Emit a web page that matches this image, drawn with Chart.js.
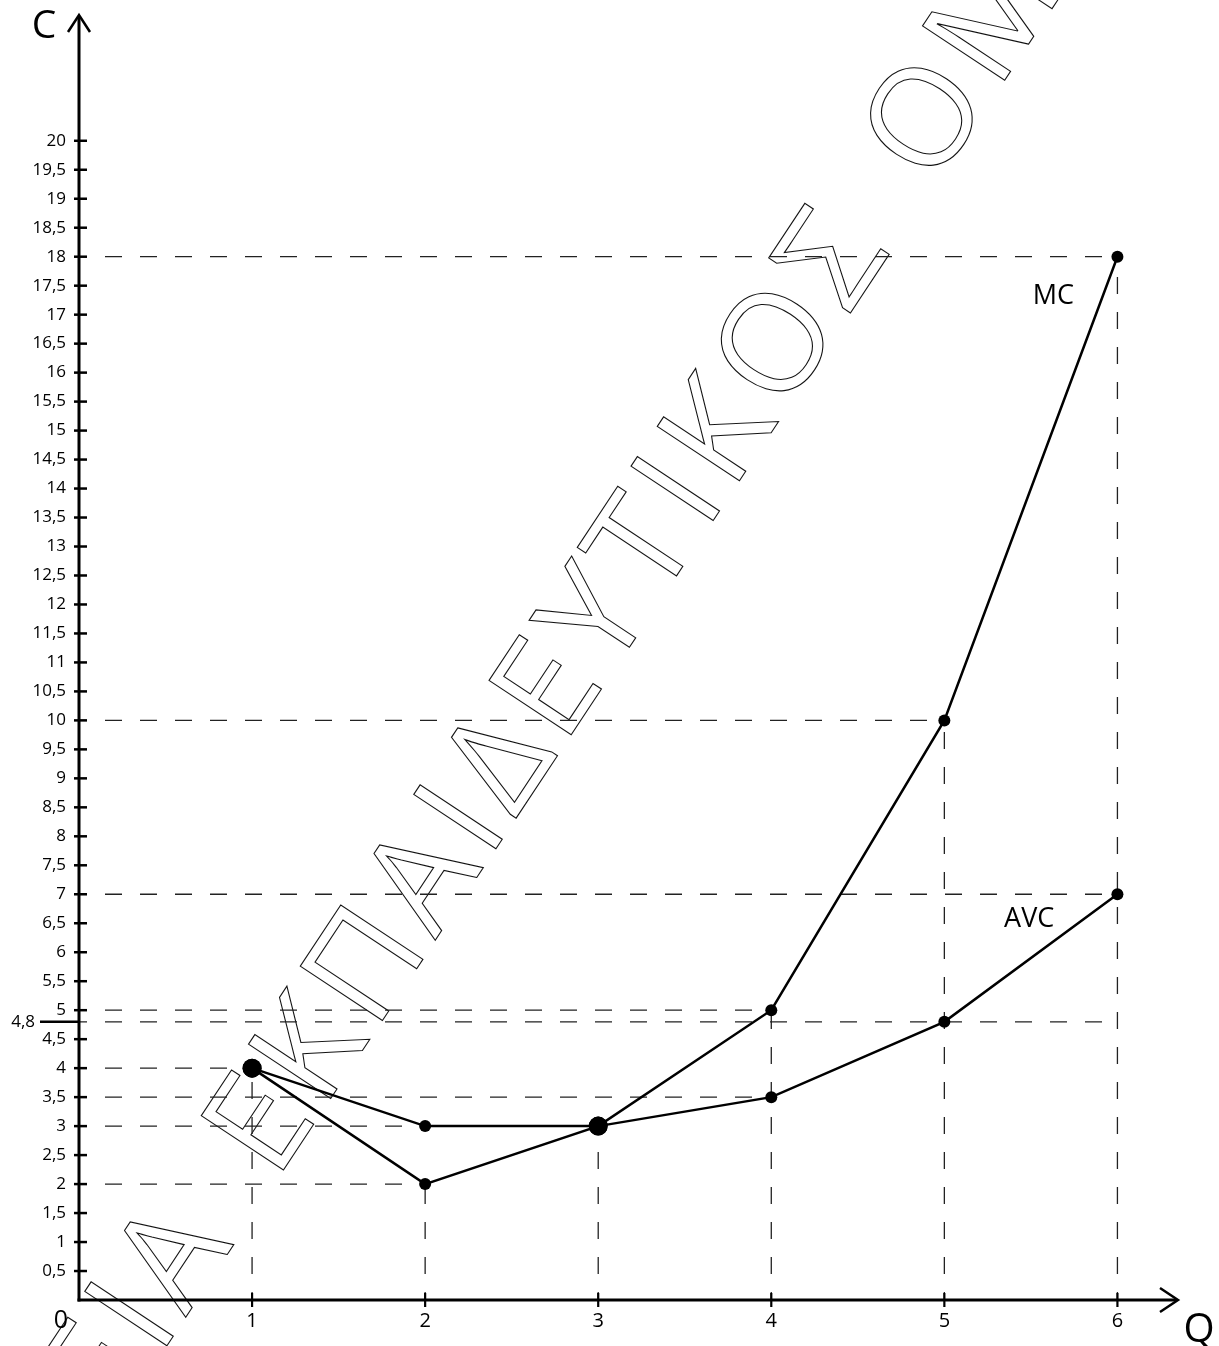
<!DOCTYPE html>
<html><head><meta charset="utf-8">
<script src="https://cdn.jsdelivr.net/npm/chart.js@4"></script>
<style>html,body{margin:0;padding:0;background:#fff}#wrap{width:1219px;height:1346px;position:relative}</style>
</head><body><div id="wrap"><canvas id="c"></canvas></div>
<script>
// ---- data ----
const quantities = [1, 2, 3, 4, 5, 6];
const mcValues   = [4, 2, 3, 5, 10, 18];
const avcValues  = [4, 3, 3, 3.5, 4.8, 7];
const bigPointQ  = [1, 3];               // points where MC crosses AVC
const xTickValues = [1, 2, 3, 4, 5, 6];
const yTickValues = [0.5, 1, 1.5, 2, 2.5, 3, 3.5, 4, 4.5, 5, 5.5, 6, 6.5, 7, 7.5, 8, 8.5, 9, 9.5, 10,
                     10.5, 11, 11.5, 12, 12.5, 13, 13.5, 14, 14.5, 15, 15.5, 16, 16.5, 17, 17.5, 18, 18.5, 19, 19.5, 20];
const extraTickValue = 4.8;
const extraTickLabel = '4,8';
const hGuideLevels = [18, 10, 7, 5, 4.8, 4, 3.5, 3, 2];
const hGuideEnds   = [6, 5, 6, 4, 6, 1, 4, 2, 2];
const vGuideQ      = [1, 2, 3, 4, 5, 6];
const vGuideEnds   = [4, 2, 3, 5, 10, 18];
const curveNames   = ['MC', 'AVC'];
const curveNameQ   = [5.63, 5.49];
const curveNameC   = [17.31, 6.56];
const xAxisTitle = 'Q', yAxisTitle = 'C', originLabel = '0';
const watermarkText = 'ΠΑΙΔΕΙΑ ΕΚΠΑΙΔΕΥΤΙΚΟΣ ΟΜΙΛΟΣ';
const xMax = 6.35, yMax = 22.17;

const FONT = '"Open Sans", sans-serif';
Chart.defaults.font.family = FONT;

function pts(xs, ys) { return xs.map((x, i) => ({ x: x, y: ys[i] })); }
const radii = quantities.map(q => bigPointQ.includes(q) ? 9.5 : 6);
const curveStyle = { showLine: true, borderColor: '#000', backgroundColor: '#000', borderWidth: 2.5,
  pointRadius: radii, pointBorderWidth: 0, pointBackgroundColor: '#000', tension: 0, fill: false };
const guideStyle = { showLine: true, borderColor: '#222', borderWidth: 1.3, borderDash: [17, 18],
  borderDashOffset: 9, pointRadius: 0, fill: false, tension: 0 };

const datasets = [
  Object.assign({ label: 'MC', data: pts(quantities, mcValues) }, curveStyle),
  Object.assign({ label: 'AVC', data: pts(quantities, avcValues) }, curveStyle)
];
hGuideLevels.forEach((lv, i) => datasets.push(Object.assign({ label: 'h' + i, data: [{ x: 0, y: lv }, { x: hGuideEnds[i], y: lv }] }, guideStyle)));
vGuideQ.forEach((q, i) => datasets.push(Object.assign({ label: 'v' + i, data: [{ x: q, y: 0 }, { x: q, y: vGuideEnds[i] }] }, guideStyle)));

const decor = {
  id: 'decor',
  beforeDatasetsDraw(chart) {
    // outlined watermark
    const ctx = chart.ctx;
    ctx.save();
    const fs = 138;
    ctx.font = fs + 'px ' + FONT;
    const word = 'ΕΚΠΑΙΔΕΥΤΙΚΟΣ';
    const w = ch => ctx.measureText(ch).width;
    let natural = 0;
    for (const ch of word) natural += w(ch);
    natural -= w('Ε') / 2 + w('Σ') / 2;
    const ls = (1037 - natural) / (word.length - 1);
    const chars = Array.from(watermarkText);
    const startIdx = watermarkText.indexOf(word);
    let s = 0, sE = 0;
    const pos = [];
    chars.forEach((ch, i) => {
      pos.push(s);
      if (i === startIdx) sE = s + w(ch) / 2;
      s += w(ch) + ls + (ch === ' ' ? 22 : 0);
    });
    const cap = 0.714 * fs;
    ctx.translate(256, 1122);
    ctx.rotate(-56.5 * Math.PI / 180);
    ctx.lineWidth = 1.1;
    ctx.strokeStyle = '#111';
    ctx.textBaseline = 'alphabetic';
    ctx.textAlign = 'left';
    chars.forEach((ch, i) => { if (ch !== ' ') ctx.strokeText(ch, pos[i] - sE, cap / 2); });
    ctx.restore();
  },
  afterDraw(chart) {
    const ctx = chart.ctx;
    const xs = chart.scales.x, ys = chart.scales.y;
    const x0 = xs.getPixelForValue(0), y0 = ys.getPixelForValue(0);
    const xEnd = xs.getPixelForValue(xMax), yEnd = ys.getPixelForValue(yMax);
    ctx.save();
    ctx.strokeStyle = '#000';
    ctx.lineCap = 'butt';
    // axes
    ctx.lineWidth = 3;
    ctx.beginPath(); ctx.moveTo(x0, y0 + 1.5); ctx.lineTo(x0, yEnd + 1); ctx.stroke();
    ctx.beginPath(); ctx.moveTo(x0 - 1.5, y0); ctx.lineTo(xEnd - 1, y0); ctx.stroke();
    // arrow heads
    ctx.lineWidth = 2.5;
    ctx.lineJoin = 'miter';
    ctx.beginPath(); ctx.moveTo(x0 - 11, yEnd + 17); ctx.lineTo(x0, yEnd); ctx.lineTo(x0 + 11, yEnd + 17); ctx.stroke();
    ctx.beginPath(); ctx.moveTo(xEnd - 18, y0 - 12); ctx.lineTo(xEnd, y0); ctx.lineTo(xEnd - 18, y0 + 12); ctx.stroke();
    // tick marks
    ctx.lineWidth = 2.5;
    ys.ticks.forEach(t => { const y = ys.getPixelForValue(t.value); ctx.beginPath(); ctx.moveTo(x0 - 5, y); ctx.lineTo(x0 + 8, y); ctx.stroke(); });
    ctx.lineWidth = 2.2;
    xs.ticks.forEach(t => { const x = xs.getPixelForValue(t.value); ctx.beginPath(); ctx.moveTo(x, y0 - 7); ctx.lineTo(x, y0 + 7); ctx.stroke(); });
    // extra 4,8 tick
    const y48 = ys.getPixelForValue(extraTickValue);
    ctx.lineWidth = 2.5;
    ctx.beginPath(); ctx.moveTo(x0 - 39, y48); ctx.lineTo(x0, y48); ctx.stroke();
    ctx.fillStyle = '#000';
    ctx.font = '17px ' + FONT;
    ctx.textAlign = 'right'; ctx.textBaseline = 'middle';
    ctx.fillText(extraTickLabel, x0 - 44, y48);
    // origin, axis titles
    ctx.textAlign = 'center';
    ctx.font = '25px ' + FONT;
    ctx.fillText(originLabel, x0 - 18, y0 + 21);
    ctx.font = '39px ' + FONT;
    ctx.fillText(yAxisTitle, x0 - 35, yEnd + 12);
    ctx.font = '40px ' + FONT;
    ctx.fillText(xAxisTitle, xEnd + 21, y0 + 31);
    // curve names
    ctx.font = '27px ' + FONT;
    curveNames.forEach((n, i) => ctx.fillText(n, xs.getPixelForValue(curveNameQ[i]), ys.getPixelForValue(curveNameC[i])));
    ctx.restore();
  }
};

new Chart(document.getElementById('c'), {
  type: 'scatter',
  data: { datasets: datasets },
  options: {
    responsive: true, maintainAspectRatio: false, animation: false,
    layout: { padding: { top: 15, right: 41, left: 0, bottom: 0 } },
    plugins: { legend: { display: false }, tooltip: { enabled: false } },
    scales: {
      x: {
        type: 'linear', min: 0, max: xMax,
        grid: { display: false, drawTicks: false }, border: { display: false },
        afterBuildTicks: s => { s.ticks = xTickValues.map(v => ({ value: v })); },
        afterFit: s => { s.height = 46; s.paddingLeft = 0; s.paddingRight = 0; },
        ticks: { padding: 9, color: '#000', font: { size: 20 }, autoSkip: false, maxRotation: 0,
                 callback: v => String(v) }
      },
      y: {
        type: 'linear', min: 0, max: yMax,
        grid: { display: false, drawTicks: false }, border: { display: false },
        afterBuildTicks: s => { s.ticks = yTickValues.map(v => ({ value: v })); },
        afterFit: s => { s.width = 79; s.paddingTop = 0; s.paddingBottom = 0; },
        ticks: { padding: 13, color: '#000', font: { size: 17 }, autoSkip: false,
                 callback: v => String(v).replace('.', ',') }
      }
    }
  },
  plugins: [decor]
});
</script></body></html>
